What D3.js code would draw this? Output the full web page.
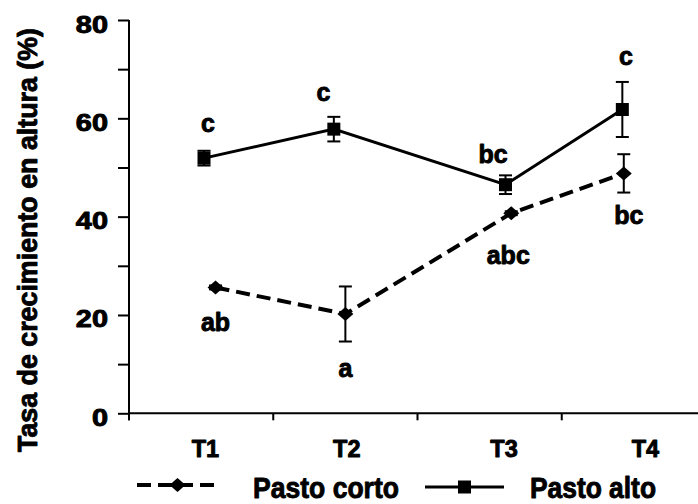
<!DOCTYPE html>
<html>
<head>
<meta charset="utf-8">
<script src="https://cdn.jsdelivr.net/npm/d3@7"></script>
<style>
  html, body { margin: 0; padding: 0; background: #fff; }
  svg { display: block; }
  text { font-family: "Liberation Sans", Arial, sans-serif; font-weight: bold; fill: #000;
         stroke: #000; stroke-width: 0.9px; stroke-linejoin: round; }
</style>
</head>
<body>
<svg id="chart" width="698" height="504"></svg>
<script>
// Treatments and their tick labels
const categories = ["T1", "T2", "T3", "T4"];
// Where each treatment label sits along the category axis (category units)
const categoryLabelPos = [1.03, 2.01, 3.10, 4.08];

// Pasto corto: mean growth rate (%), standard error, x position, letters
const cortoValues = [25.6, 20.2, 40.7, 48.8];
const cortoErrors = [0.4, 5.6, 0.4, 3.9];
const cortoPos = [1.10, 2.00, 3.15, 3.93];
const cortoLetters = ["ab", "a", "abc", "bc"];

// Pasto alto
const altoValues = [51.9, 57.8, 46.5, 61.8];
const altoErrors = [1.5, 2.5, 1.9, 5.6];
const altoPos = [1.02, 1.92, 3.11, 3.92];
const altoLetters = ["c", "c", "bc", "c"];

// Y axis ticks
const yMajorTicks = [0, 20, 40, 60, 80];
const yMinorTicks = [10, 30, 50, 70];

const legendNames = ["Pasto corto", "Pasto alto"];

const svg = d3.select("#chart");
const W = 698, H = 504;
svg.append("rect").attr("width", W).attr("height", H).attr("fill", "#fff");

const plot = { left: 129, right: 706, top: 20, bottom: 413.3 };

const y = d3.scaleLinear().domain([0, 80]).range([plot.bottom, plot.top]);
const band = d3.scaleBand().domain(categories).range([plot.left, plot.right]).padding(0);
const x = d3.scaleLinear().domain([0.5, categories.length + 0.5]).range([plot.left, plot.right]);

const g = svg.append("g");

// ---- Y axis (ticks outside, all the same length) ----
const yAxis = d3.axisLeft(y)
  .tickValues(yMajorTicks.concat(yMinorTicks).sort((a, b) => a - b))
  .tickSize(11)
  .tickFormat("");
const yg = g.append("g").attr("transform", `translate(${plot.left},0)`).call(yAxis);
yg.select(".domain").remove();
yg.selectAll(".tick line").attr("stroke", "#000").attr("stroke-width", 2);
g.append("line")
  .attr("x1", plot.left).attr("x2", plot.left)
  .attr("y1", plot.top).attr("y2", plot.bottom + 7)
  .attr("stroke", "#000").attr("stroke-width", 2);

// Y tick labels (wide bold digits)
yMajorTicks.forEach(v => {
  g.append("g")
    .attr("transform", `translate(108,${y(v) + 12.5}) scale(1.24,1)`)
    .append("text")
    .attr("text-anchor", "end")
    .attr("font-size", 23.3)
    .text(v);
});

// ---- X axis: boundary ticks between treatments ----
g.append("line")
  .attr("x1", plot.left).attr("x2", plot.right)
  .attr("y1", plot.bottom).attr("y2", plot.bottom)
  .attr("stroke", "#000").attr("stroke-width", 2);
categories.forEach(c => {
  const bx = band(c);
  g.append("line")
    .attr("x1", bx).attr("x2", bx)
    .attr("y1", plot.bottom).attr("y2", plot.bottom + 7)
    .attr("stroke", "#000").attr("stroke-width", 2);
});
categories.forEach((c, i) => {
  g.append("text")
    .attr("x", x(categoryLabelPos[i]))
    .attr("y", 456.7)
    .attr("text-anchor", "middle")
    .attr("font-size", 23.5)
    .text(c);
});

// ---- Y axis title ----
g.append("text")
  .attr("transform", "translate(36.5,240) rotate(-90)")
  .attr("text-anchor", "middle")
  .attr("font-size", 28)
  .attr("textLength", 424)
  .attr("lengthAdjust", "spacingAndGlyphs")
  .text("Tasa de crecimiento en altura (%)");

// ---- Series ----
const series = [
  { name: legendNames[0], values: cortoValues, errors: cortoErrors, pos: cortoPos, letters: cortoLetters,
    dash: "14,7", width: 4, marker: "diamond", below: true },
  { name: legendNames[1], values: altoValues, errors: altoErrors, pos: altoPos, letters: altoLetters,
    dash: null, width: 3, marker: "square", below: false }
];

// Hand-tuned letter nudges (pixels), per series
const letterNudge = [
  [[0, 8], [0, 1], [-3, 15], [5, -3]],
  [[4, -3], [-10.5, 0], [-12.5, 4], [3.5, -1]]
];

function markerPath(type) {
  if (type === "diamond") return "M0,-7 L8,0 L0,7 L-8,0 Z";
  return "M-6.5,-6.5 L6.5,-6.5 L6.5,6.5 L-6.5,6.5 Z";
}

const line = d3.line().x(d => x(d.p)).y(d => y(d.v));

series.forEach((s, si) => {
  const pts = s.values.map((v, i) => ({ v, e: s.errors[i], p: s.pos[i], t: s.letters[i], i }));

  g.append("path")
    .datum(pts)
    .attr("d", line)
    .attr("fill", "none")
    .attr("stroke", "#000")
    .attr("stroke-width", s.width)
    .attr("stroke-dasharray", s.dash);

  // error bars
  const eb = g.append("g").attr("stroke", "#000").attr("stroke-width", 2);
  pts.forEach(d => {
    const cx = x(d.p), y1 = y(d.v + d.e), y2 = y(d.v - d.e);
    eb.append("line").attr("x1", cx).attr("x2", cx).attr("y1", y1).attr("y2", y2);
    eb.append("line").attr("x1", cx - 6.5).attr("x2", cx + 6.5).attr("y1", y1).attr("y2", y1);
    eb.append("line").attr("x1", cx - 6.5).attr("x2", cx + 6.5).attr("y1", y2).attr("y2", y2);
  });

  // markers
  g.append("g").selectAll("path").data(pts).join("path")
    .attr("transform", d => `translate(${x(d.p)},${y(d.v)})`)
    .attr("d", markerPath(s.marker))
    .attr("fill", "#000");

  // significance letters
  g.append("g").selectAll("text").data(pts).join("text")
    .attr("x", d => x(d.p) + letterNudge[si][d.i][0])
    .attr("y", d => (s.below ? y(d.v - d.e) + 34 : y(d.v + d.e) - 16) + letterNudge[si][d.i][1])
    .attr("text-anchor", "middle")
    .attr("font-size", 25)
    .text(d => d.t);
});

// ---- Legend ----
const legend = g.append("g");
const leg = [
  { x1: 137, x2: 218, y: 485, textX: 253, textLen: 146 },
  { x1: 425, x2: 504, y: 487, textX: 530, textLen: 126 }
];
series.forEach((s, i) => {
  const L = leg[i];
  legend.append("line")
    .attr("x1", L.x1).attr("x2", L.x2).attr("y1", L.y).attr("y2", L.y)
    .attr("stroke", "#000").attr("stroke-width", s.width)
    .attr("stroke-dasharray", s.dash);
  legend.append("path")
    .attr("transform", `translate(${(L.x1 + L.x2) / 2},${L.y})`)
    .attr("d", markerPath(s.marker))
    .attr("fill", "#000");
  legend.append("text")
    .attr("x", L.textX).attr("y", 497.5)
    .attr("font-size", 29)
    .attr("textLength", L.textLen)
    .attr("lengthAdjust", "spacingAndGlyphs")
    .text(s.name);
});
</script>
</body>
</html>
